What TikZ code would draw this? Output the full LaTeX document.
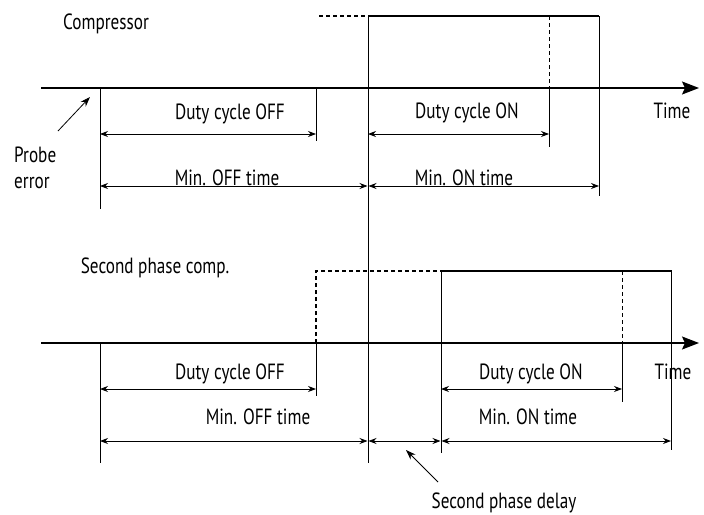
\documentclass[tikz,border=0pt]{standalone}
\usepackage{fontspec}
\setmainfont{PT Sans}[FakeStretch=0.78]
\usetikzlibrary{arrows.meta}
\tikzset{
  vline/.style={line width=0.8pt},
  axis/.style={line width=1.6pt,-{Stealth[length=17pt,width=13pt,inset=3pt]}},
  wave/.style={line width=1.2pt},
  dashline/.style={line width=1.2pt,dash pattern=on 4pt off 3pt},
  span/.style={line width=0.8pt,{Stealth[length=8pt,width=6pt]}-{Stealth[length=8pt,width=6pt]}},
  lbl/.style={anchor=base,inner sep=0pt,font=\fontsize{22}{26}\selectfont},
  lblw/.style={lbl,anchor=base west},
  ptr/.style={line width=0.8pt,-{Stealth[length=10pt,width=7pt]}},
}
\begin{document}
\begin{tikzpicture}[x=1pt,y=-1pt]
\useasboundingbox (0,0) rectangle (704,514);
% ---------- top: compressor ----------
\coordinate (ta0) at (41,88);
\coordinate (ta1) at (699,88);
\coordinate (tc0) at (319,16);
\coordinate (tcr) at (368,16);
\coordinate (tcd) at (549,16);
\coordinate (tce) at (599,16);
\coordinate (tr1) at (368,463);
\coordinate (tp0) at (100,88);
\coordinate (tp1) at (100,209);
\coordinate (to0) at (316,88);
\coordinate (to1) at (316,141);
\coordinate (td0) at (549,88);
\coordinate (td1) at (549,147);
\coordinate (te1) at (599,196);
\coordinate (tsa) at (100,134);
\coordinate (tsb) at (316,134);
\coordinate (tsc) at (368,134);
\coordinate (tsd) at (549,134);
\coordinate (tma) at (100,186);
\coordinate (tmb) at (367.5,186);
\coordinate (tmc) at (368.5,186);
\coordinate (tmd) at (599,186);
\coordinate (pe0) at (58,131);
\coordinate (pe1) at (90,97);

\draw[dashline] (tc0) -- (tcr);
\draw[wave] (tcr) -- (tce);
\draw[axis] (ta0) -- (ta1);
\draw[vline] (tcr) -- (tr1);
\draw[vline] (tp0) -- (tp1);
\draw[vline] (to0) -- (to1);
\draw[vline,dash pattern=on 4pt off 3pt] (tcd) -- (td0);
\draw[vline] (td0) -- (td1);
\draw[vline] (tce) -- (te1);
\draw[span] (tsa) -- (tsb);
\draw[span] (tsc) -- (tsd);
\draw[span] (tma) -- (tmb);
\draw[span] (tmc) -- (tmd);
\draw[ptr] (pe0) -- (pe1);

\node[lbl] (comp) at (106,29) {Compressor};
\node[lbl] (tdoff) at (230,119) {Duty cycle OFF};
\node[lbl] (tdon) at (467,118) {Duty cycle ON};
\node[lbl] (ttime) at (672,118) {Time};
\node[lbl] (tmoff) at (227,185) {Min. OFF time};
\node[lbl] (tmon) at (464,185) {Min. ON time};
\node[lblw] (probe) at (14,162) {Probe};
\node[lblw] (perr) at (14,188) {error};

% ---------- bottom: second phase ----------
\coordinate (ba0) at (41,343);
\coordinate (ba1) at (699,343);
\coordinate (bx0) at (316,343);
\coordinate (bx1) at (316,271);
\coordinate (bw0) at (441,271);
\coordinate (bwd) at (622,271);
\coordinate (bwe) at (671,271);
\coordinate (bwf) at (672,271);
\coordinate (bo1) at (316,396);
\coordinate (bp0) at (100,343);
\coordinate (bp1) at (100,463);
\coordinate (bw1) at (441,453);
\coordinate (bd0) at (622,343);
\coordinate (bd1) at (622,402);
\coordinate (be1) at (671,450);
\coordinate (bsa) at (100,389);
\coordinate (bsb) at (316,389);
\coordinate (bsc) at (441,389);
\coordinate (bsd) at (622,389);
\coordinate (bma) at (100,441);
\coordinate (bmb) at (367.5,441);
\coordinate (bmc) at (368.5,441);
\coordinate (bmd) at (440.5,441);
\coordinate (bme) at (441.5,441);
\coordinate (bmf) at (671,441);
\coordinate (sd0) at (438,482);
\coordinate (sd1) at (406,450);

\draw[dashline] (bx0) -- (bx1) -- (bw0);
\draw[wave] (bw0) -- (bwf);
\draw[axis] (ba0) -- (ba1);
\draw[vline] (bp0) -- (bp1);
\draw[vline] (bx0) -- (bo1);
\draw[vline] (bw0) -- (bw1);
\draw[vline,dash pattern=on 4pt off 3pt] (bwd) -- (bd0);
\draw[vline] (bd0) -- (bd1);
\draw[vline] (bwe) -- (be1);
\draw[span] (bsa) -- (bsb);
\draw[span] (bsc) -- (bsd);
\draw[span] (bma) -- (bmb);
\draw[span] (bmc) -- (bmd);
\draw[span] (bme) -- (bmf);
\draw[ptr] (sd0) -- (sd1);

\node[lbl] (spc) at (155,273) {Second phase comp.};
\node[lbl] (bdoff) at (230,379) {Duty cycle OFF};
\node[lbl] (bdon) at (531,379) {Duty cycle ON};
\node[lbl] (btime) at (673,379) {Time};
\node[lbl] (bmoff) at (258,424) {Min. OFF time};
\node[lbl] (bmon) at (528,424) {Min. ON time};
\node[lbl] (spd) at (504,508) {Second phase delay};
\end{tikzpicture}
\end{document}
